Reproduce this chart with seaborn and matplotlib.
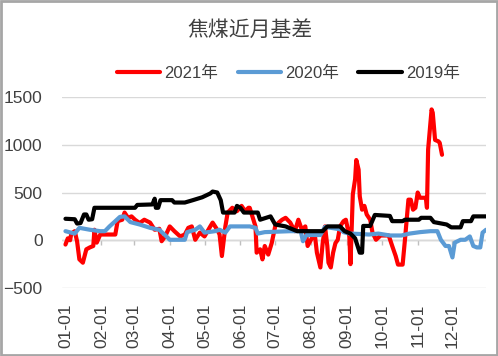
import pandas as pd
import matplotlib.pyplot as plt
import matplotlib.patches as patches
import seaborn as sns

# day-of-year positions and basis values
red_days = [0, 2, 4, 5, 8, 10, 12, 15, 18, 21, 24, 25, 27, 30, 43, 45, 49, 51, 54, 57,
            60, 64, 68, 73, 77, 81, 83, 86, 90, 94, 99, 103, 106, 109, 112, 116, 120, 125, 127, 131,
            133, 135, 138, 140, 144, 148, 152, 155, 158, 159, 164, 165, 168, 170, 172, 175, 178, 181, 184, 187,
            190, 194, 198, 201, 204, 207, 209, 213, 215, 217, 220, 222, 224, 226, 227, 229, 231, 233, 235, 237,
            240, 242, 245, 246, 248, 250, 251, 253, 254, 256, 258, 260, 263, 265, 268, 272, 279, 282, 285, 287,
            291, 293, 296, 298, 300, 302, 304, 306, 311, 312, 313, 316, 317, 319, 322, 323, 325]
red_vals = [-45, 20, 0, 70, 95, -10, -200, -235, -95, -75, -60, 110, -25, 60, 60, 200, 215, 290, 235, 250,
            215, 180, 215, 185, 110, 120, -10, 40, 145, 95, 40, 60, 130, 145, 5, 80, 40, 145, 185, 110,
            60, -165, 145, 290, 340, 305, 360, 305, 340, 340, 145, -130, -95, -200, -60, -150, -30, 145, 185, 215,
            235, 185, 95, 215, 110, 145, -60, 30, 80, -130, -285, -30, 145, -60, -235, -285, -130, -30, 5, 145,
            200, 215, 40, -250, 480, 640, 840, 740, 460, 320, 360, 270, 215, 80, 5, 50, 50, -60, -165, -255,
            -255, 5, 425, 425, 320, 340, 500, 445, 445, 340, 950, 1370, 1335, 1050, 1035, 1020, 895]

blue_days = [0, 8, 12, 21, 30, 34, 38, 43, 47, 51, 56, 64, 73, 81, 88, 90, 103, 105, 112, 116,
             120, 129, 133, 138, 142, 159, 164, 166, 172, 194, 203, 205, 208, 220, 224, 237, 240, 245, 255, 262,
             270, 280, 290, 297, 306, 315, 321, 324, 328, 331, 334, 336, 341, 345, 349, 352, 355, 358, 360, 363]
blue_vals = [95, 70, 130, 110, 95, 95, 145, 200, 245, 250, 190, 165, 130, 110, 30, 5, 5, 85, 110, 145,
             80, 95, 110, 80, 145, 145, 130, 70, 85, 95, 95, -10, 55, 55, 140, 115, 85, 70, 65, 60,
             70, 50, 50, 70, 85, 95, 95, 5, -60, -60, -180, -25, 5, 5, 40, -60, -75, -75, 80, 110]

black_days = [0, 8, 10, 13, 16, 18, 20, 23, 25, 60, 62, 75, 77, 78, 80, 82, 92, 94, 103, 110,
              118, 125, 127, 131, 134, 136, 146, 148, 151, 154, 166, 168, 177, 181, 190, 200, 222, 226, 237, 241,
              246, 250, 254, 256, 257, 263, 267, 280, 282, 291, 293, 305, 307, 315, 318, 329, 333, 341, 343, 350,
              352, 363]
black_vals = [225, 220, 175, 180, 270, 270, 215, 220, 340, 340, 370, 375, 435, 340, 340, 420, 420, 395, 395, 420,
              450, 490, 510, 500, 420, 290, 290, 360, 340, 290, 290, 215, 250, 165, 145, 95, 95, 145, 145, 95,
              70, 20, -130, -130, 150, 150, 265, 255, 200, 200, 215, 215, 235, 235, 190, 165, 135, 135, 200, 200,
              250, 250]

years = ['2021年', '2020年', '2019年']
colors = ['#FF0000', '#5B9BD5', '#000000']
month_days = [0, 31, 59, 90, 120, 151, 181, 212, 243, 273, 304, 334]
month_labels = ['01-01', '02-01', '03-01', '04-01', '05-01', '06-01',
                '07-01', '08-01', '09-01', '10-01', '11-01', '12-01']

df = pd.concat([
    pd.DataFrame({'day': red_days, 'value': red_vals, 'year': years[0]}),
    pd.DataFrame({'day': blue_days, 'value': blue_vals, 'year': years[1]}),
    pd.DataFrame({'day': black_days, 'value': black_vals, 'year': years[2]}),
])

sns.set_theme(style='white')
plt.rcParams['font.family'] = ['Liberation Sans', 'Noto Sans CJK SC', 'DejaVu Sans']

fig = plt.figure(figsize=(4.98, 3.56), dpi=100)
ax = fig.add_axes([0.1245, 0.191, 0.8515, 0.5365])

sns.lineplot(data=df, x='day', y='value', hue='year', hue_order=years,
             palette=colors, linewidth=3, estimator=None, sort=True, ax=ax)

ax.set_ylim(-500, 1500)
ax.set_xlim(-3, 363)
ax.set_yticks([-500, 0, 500, 1000, 1500])
ax.yaxis.grid(True, color='#D9D9D9', linewidth=1)
ax.set_axisbelow(True)
for s in ax.spines.values():
    s.set_visible(False)
ax.axhline(0, color='#BFBFBF', linewidth=1, zorder=0)
ax.vlines(month_days + [365], 0, -50, color='#BFBFBF', linewidth=1, zorder=0)

ax.set_xticks(month_days)
ax.set_xticklabels(month_labels, rotation=90)
ax.tick_params(axis='x', length=0, pad=11, labelsize=12.5, labelcolor='#404040')
ax.tick_params(axis='y', length=0, pad=14, labelsize=12.5, labelcolor='#404040')
ax.set_xlabel('')
ax.set_ylabel('')

ax.legend(loc='center', bbox_to_anchor=(0.579, 0.795), bbox_transform=fig.transFigure,
          ncol=3, frameon=False, fontsize=12, handlelength=2.6, handletextpad=0.25,
          columnspacing=1.15, labelcolor='#404040')

fig.text(0.502, 0.915, '焦煤近月基差', ha='center', va='center', fontsize=15,
         color='#404040', family=['Noto Sans CJK SC', 'DejaVu Sans'])

fig.patches.append(patches.Rectangle((0.002, 0.003), 0.995, 0.994, transform=fig.transFigure,
                                     fill=False, edgecolor='#A6A6A6', linewidth=2))

fig.savefig('out.png', dpi=100)
